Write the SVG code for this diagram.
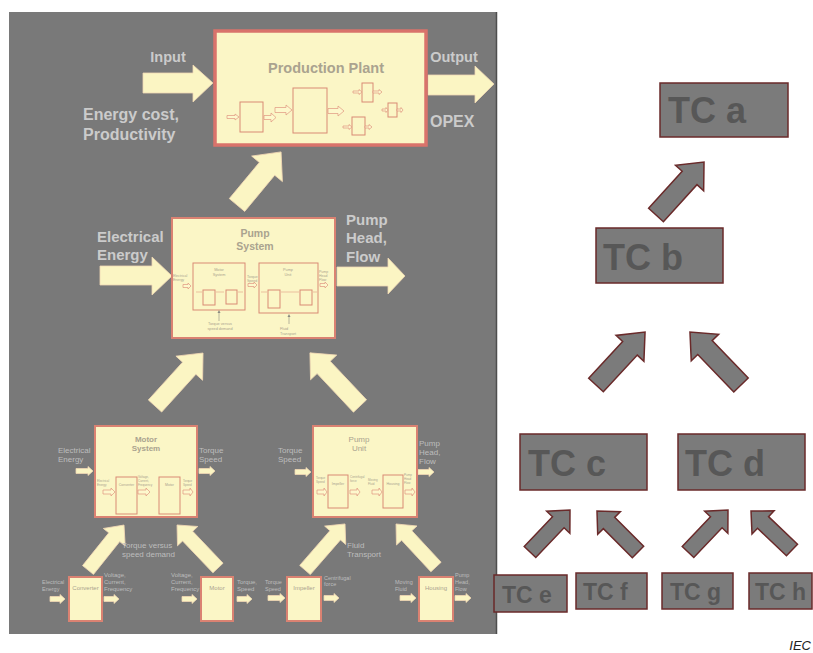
<svg xmlns="http://www.w3.org/2000/svg" width="813" height="653" viewBox="0 0 813 653">
<style>
.ybox{fill:#fbf6c6;stroke:#da8272;stroke-width:2}
.ibox{fill:none;stroke:#d98a74;stroke-width:1}
.yarr{fill:#fbf5c3;stroke:#f0d7b4;stroke-width:0.8}
.tarr{fill:#fdf8cc;stroke:#df9580;stroke-width:0.7}
.garr{fill:#7b7b7b;stroke:#6a2a2a;stroke-width:1.5}
.tc{fill:#7b7b7b;stroke:#6a2a2a;stroke-width:1.5}
.tct{font-family:"Liberation Sans",Arial,sans-serif;font-weight:bold;fill:#575757}
.lb{font-family:"Liberation Sans",Arial,sans-serif;font-weight:bold;fill:#cbcbcb}
.ls{font-family:"Liberation Sans",Arial,sans-serif;fill:#bdbdbd}
.yt{font-family:"Liberation Sans",Arial,sans-serif;font-weight:bold;fill:#aaa38f}
.yts{font-family:"Liberation Sans",Arial,sans-serif;fill:#aaa38f}
.iec{font-family:"Liberation Sans",Arial,sans-serif;font-style:italic;fill:#222}
</style>
<rect x="0" y="0" width="813" height="653" fill="#ffffff"/>
<rect x="9" y="12" width="487" height="622" fill="#797979"/>
<line x1="496.5" y1="12" x2="496.5" y2="634" stroke="#4e4e4e" stroke-width="1.5"/>

<g id="connectors">
  <!-- big horizontal yellow arrows -->
  <path class="yarr" d="M143 73 H193 V65 L213 83 L193 102 V93 H143 Z"/>
  <path class="yarr" d="M428 75 H475 V66 L494 84 L475 103 V95 H428 Z"/>
  <path class="yarr" d="M100 266 H152 V257 L172 276 L152 295 V285 H100 Z"/>
  <path class="yarr" d="M337 267 H388 V258 L405 276 L388 294 V286 H337 Z"/>
  <!-- diagonal yellow arrows -->
  <g transform="translate(237,205) rotate(-50.3)"><polygon class="yarr" points="0,-10 47,-10 47,-20 69,0 47,20 47,10 0,10"/></g>
  <g transform="translate(155,406) rotate(-47.8)"><polygon class="yarr" points="0,-9 51,-9 51,-18 71.5,0 51,18 51,9 0,9"/></g>
  <g transform="translate(360,406) rotate(-133.3)"><polygon class="yarr" points="0,-9 53,-9 53,-18 73,0 53,18 53,9 0,9"/></g>
  <g transform="translate(88,570) rotate(-51.3)"><polygon class="yarr" points="0,-7 42,-7 42,-14 57.6,0 42,14 42,7 0,7"/></g>
  <g transform="translate(218,568) rotate(-133.6)"><polygon class="yarr" points="0,-7 44,-7 44,-14 59.4,0 44,14 44,7 0,7"/></g>
  <g transform="translate(305,570) rotate(-49)"><polygon class="yarr" points="0,-7 46,-7 46,-14 61,0 46,14 46,7 0,7"/></g>
  <g transform="translate(436,567) rotate(-132.9)"><polygon class="yarr" points="0,-7 43,-7 43,-14 58.7,0 43,14 43,7 0,7"/></g>
  <!-- small yellow arrows -->
  <path class="yarr" d="M76 468.5 H88 V466.5 L93 471 L88 475.5 V473.5 H76 Z"/>
  <path class="yarr" d="M199 468.5 H210 V466.5 L215 471 L210 475.5 V473.5 H199 Z"/>
  <path class="yarr" d="M295 469.5 H306 V467.5 L311 472 L306 476.5 V474.5 H295 Z"/>
  <path class="yarr" d="M418 469.5 H429 V467.5 L434 472 L429 476.5 V474.5 H418 Z"/>
  <path class="yarr" d="M50 596.5 H60 V594.5 L65 599 L60 603.5 V601.5 H50 Z"/>
  <path class="yarr" d="M104 596.5 H114 V594.5 L119 599 L114 603.5 V601.5 H104 Z"/>
  <path class="yarr" d="M182 596.5 H192 V594.5 L197 599 L192 603.5 V601.5 H182 Z"/>
  <path class="yarr" d="M237 596.5 H247 V594.5 L252 599 L247 603.5 V601.5 H237 Z"/>
  <path class="yarr" d="M268 595.5 H280 V593.5 L285 598 L280 602.5 V600.5 H268 Z"/>
  <path class="yarr" d="M324 595.5 H334 V593.5 L339 598 L334 602.5 V600.5 H324 Z"/>
  <path class="yarr" d="M400 595.5 H411 V593.5 L416 598 L411 602.5 V600.5 H400 Z"/>
  <path class="yarr" d="M455 595.5 H466 V593.5 L471 598 L466 602.5 V600.5 H455 Z"/>
  <!-- right side gray arrows -->
  <g transform="translate(656,215) rotate(-47.8)"><polygon class="garr" points="0,-10 50,-10 50,-19 71.5,0 50,19 50,10 0,10"/></g>
  <g transform="translate(596,385) rotate(-47.2)"><polygon class="garr" points="0,-10 50,-10 50,-19 72.2,0 50,19 50,10 0,10"/></g>
  <g transform="translate(741,385) rotate(-133.9)"><polygon class="garr" points="0,-10 52,-10 52,-19 73.6,0 52,19 52,10 0,10"/></g>
  <g transform="translate(530,552) rotate(-46.4)"><polygon class="garr" points="0,-8 41,-8 41,-16 58,0 41,16 41,8 0,8"/></g>
  <g transform="translate(638,552) rotate(-135)"><polygon class="garr" points="0,-8 41,-8 41,-16 58,0 41,16 41,8 0,8"/></g>
  <g transform="translate(688,552) rotate(-46.4)"><polygon class="garr" points="0,-8 41,-8 41,-16 58,0 41,16 41,8 0,8"/></g>
  <g transform="translate(792,550) rotate(-136.4)"><polygon class="garr" points="0,-8 40,-8 40,-16 56.6,0 40,16 40,8 0,8"/></g>
</g>

<g id="labels-outer">
  <text class="lb" x="168" y="62" font-size="14.5" text-anchor="middle">Input</text>
  <text class="lb" x="454" y="62" font-size="14.5" text-anchor="middle">Output</text>
  <text class="lb" x="83" y="120" font-size="16">Energy cost,</text>
  <text class="lb" x="83" y="140" font-size="16">Productivity</text>
  <text class="lb" x="430" y="127" font-size="16">OPEX</text>
  <text class="lb" x="97" y="242" font-size="15">Electrical</text>
  <text class="lb" x="97" y="260" font-size="15">Energy</text>
  <text class="lb" x="346" y="225" font-size="15">Pump</text>
  <text class="lb" x="346" y="243" font-size="15">Head,</text>
  <text class="lb" x="346" y="262" font-size="15">Flow</text>
  <text class="ls" x="58" y="453" font-size="8">Electrical</text>
  <text class="ls" x="58" y="462" font-size="8">Energy</text>
  <text class="ls" x="199" y="453" font-size="8">Torque</text>
  <text class="ls" x="199" y="462" font-size="8">Speed</text>
  <text class="ls" x="278" y="453" font-size="8">Torque</text>
  <text class="ls" x="278" y="462" font-size="8">Speed</text>
  <text class="ls" x="419" y="446" font-size="8">Pump</text>
  <text class="ls" x="419" y="455" font-size="8">Head,</text>
  <text class="ls" x="419" y="464" font-size="8">Flow</text>
  <text class="ls" x="122" y="548" font-size="8">Torque versus</text>
  <text class="ls" x="122" y="557" font-size="8">speed demand</text>
  <text class="ls" x="347" y="548" font-size="8">Fluid</text>
  <text class="ls" x="347" y="557" font-size="8">Transport</text>
  <text class="ls" x="42" y="584" font-size="5.5">Electrical</text>
  <text class="ls" x="42" y="591" font-size="5.5">Energy</text>
  <text class="ls" x="104" y="577" font-size="6">Voltage,</text>
  <text class="ls" x="104" y="584" font-size="6">Current,</text>
  <text class="ls" x="104" y="591" font-size="6">Frequency</text>
  <text class="ls" x="171" y="577" font-size="6">Voltage,</text>
  <text class="ls" x="171" y="584" font-size="6">Current,</text>
  <text class="ls" x="171" y="591" font-size="6">Frequency</text>
  <text class="ls" x="237" y="584" font-size="6">Torque,</text>
  <text class="ls" x="237" y="591" font-size="6">Speed</text>
  <text class="ls" x="265" y="584" font-size="5.5">Torque</text>
  <text class="ls" x="265" y="591" font-size="5.5">Speed</text>
  <text class="ls" x="324" y="580" font-size="5.5">Centrifugal</text>
  <text class="ls" x="324" y="586" font-size="5.5">force</text>
  <text class="ls" x="395" y="584" font-size="5.5">Moving</text>
  <text class="ls" x="395" y="591" font-size="5.5">Fluid</text>
  <text class="ls" x="455" y="577" font-size="5.5">Pump</text>
  <text class="ls" x="455" y="584" font-size="5.5">Head,</text>
  <text class="ls" x="455" y="591" font-size="5.5">Flow</text>
</g>

<g id="production-plant">
  <rect x="215" y="31" width="211" height="114" fill="#fbf6c6" stroke="#d9736b" stroke-width="3.5"/>
  <text class="yt" x="326" y="73" font-size="14.5" text-anchor="middle">Production  Plant</text>
  <rect class="ibox" x="240" y="102" width="23" height="30" stroke-width="1.3"/>
  <rect class="ibox" x="293" y="88" width="34" height="45" stroke-width="1.5"/>
  <rect class="ibox" x="362" y="83" width="11" height="19"/>
  <rect class="ibox" x="388" y="103" width="9" height="14"/>
  <rect class="ibox" x="352" y="117" width="13" height="18"/>
  <path class="tarr" d="M227 115.5 H235 V114 L239 117 L235 120 V118.5 H227 Z"/>
  <path class="tarr" d="M264 115.5 H271 V113 L276 117.5 L271 122 V119.5 H264 Z"/>
  <path class="tarr" d="M275 107.5 H286 V105 L292 110 L286 115 V112.5 H275 Z"/>
  <path class="tarr" d="M328 108.5 H338 V106 L344 111 L338 116 V113.5 H328 Z"/>
  <path class="tarr" d="M353 91 H359 V89.5 L362 92 L359 94.5 V93 H353 Z"/>
  <path class="tarr" d="M373 91 H379 V89.5 L382 92 L379 94.5 V93 H373 Z"/>
  <path class="tarr" d="M382 109 H386 V107.5 L388 110 L386 112.5 V111 H382 Z"/>
  <path class="tarr" d="M397 109 H401 V107.5 L403 110 L401 112.5 V111 H397 Z"/>
  <path class="tarr" d="M343 126 H349 V124.5 L352 127 L349 129.5 V128 H343 Z"/>
  <path class="tarr" d="M365 126 H369 V124.5 L372 127 L369 129.5 V128 H365 Z"/>
</g>

<g id="pump-system">
  <rect class="ybox" x="172" y="218" width="163" height="120"/>
  <text class="yt" x="255" y="237" font-size="10.5" text-anchor="middle" font-weight="normal">Pump</text>
  <text class="yt" x="255" y="250" font-size="10.5" text-anchor="middle" font-weight="normal">System</text>
  <rect class="ibox" x="193" y="263" width="52" height="47"/>
  <rect class="ibox" x="259" y="263" width="59" height="50"/>
  <rect class="ibox" x="203" y="290" width="12" height="15" stroke-width="0.7"/>
  <rect class="ibox" x="226" y="290" width="11" height="14" stroke-width="0.7"/>
  <rect class="ibox" x="268" y="290" width="12" height="18" stroke-width="0.7"/>
  <rect class="ibox" x="300" y="290" width="12" height="15" stroke-width="0.7"/>
  <line x1="196" y1="292" x2="202" y2="292" stroke="#d98a74" stroke-width="0.5"/>
  <line x1="216" y1="292" x2="224" y2="292" stroke="#d98a74" stroke-width="0.5"/>
  <line x1="238" y1="292" x2="243" y2="292" stroke="#d98a74" stroke-width="0.5"/>
  <line x1="261" y1="292" x2="267" y2="292" stroke="#d98a74" stroke-width="0.5"/>
  <line x1="281" y1="292" x2="299" y2="292" stroke="#d98a74" stroke-width="0.5"/>
  <line x1="313" y1="292" x2="317" y2="292" stroke="#d98a74" stroke-width="0.5"/>
  <path class="tarr" d="M183 284.5 H188 V283 L191 286 L188 289 V287.5 H183 Z"/>
  <path class="tarr" d="M248 283.5 H254 V282 L257 285 L254 288 V286.5 H248 Z"/>
  <path class="tarr" d="M320 283.5 H325 V282 L328 285 L325 288 V286.5 H320 Z"/>
  <line x1="219" y1="321" x2="219" y2="312" stroke="#8a8a80" stroke-width="0.6"/>
  <path d="M217.5 313 L219 310 L220.5 313 Z" fill="#8a8a80"/>
  <line x1="289" y1="324" x2="289" y2="316" stroke="#8a8a80" stroke-width="0.6"/>
  <path d="M287.5 317 L289 314 L290.5 317 Z" fill="#8a8a80"/>
  <text class="yts" x="173" y="277" font-size="3.5">Electrical</text>
  <text class="yts" x="173" y="281" font-size="3.5">Energy</text>
  <text class="yts" x="219" y="271" font-size="3.8" text-anchor="middle">Motor</text>
  <text class="yts" x="219" y="275.5" font-size="3.8" text-anchor="middle">System</text>
  <text class="yts" x="247" y="278" font-size="3.5">Torque</text>
  <text class="yts" x="247" y="282" font-size="3.5">Speed</text>
  <text class="yts" x="288" y="271" font-size="3.8" text-anchor="middle">Pump</text>
  <text class="yts" x="288" y="275.5" font-size="3.8" text-anchor="middle">Unit</text>
  <text class="yts" x="319" y="273" font-size="3.5">Pump</text>
  <text class="yts" x="319" y="277" font-size="3.5">Head</text>
  <text class="yts" x="319" y="281" font-size="3.5">Flow</text>
  <text class="yts" x="220" y="325" font-size="3.8" text-anchor="middle">Torque versus</text>
  <text class="yts" x="220" y="329.5" font-size="3.8" text-anchor="middle">speed demand</text>
  <text class="yts" x="280" y="330" font-size="3.8">Fluid</text>
  <text class="yts" x="280" y="335" font-size="3.8">Transport</text>
</g>

<g id="motor-system">
  <rect class="ybox" x="95" y="426" width="102" height="91"/>
  <text class="yt" x="146" y="442" font-size="8" text-anchor="middle">Motor</text>
  <text class="yt" x="146" y="451" font-size="8" text-anchor="middle">System</text>
  <rect class="ibox" x="116" y="477" width="21" height="37"/>
  <rect class="ibox" x="159" y="477" width="21" height="37"/>
  <text class="yts" x="126.5" y="486" font-size="3.5" text-anchor="middle">Converter</text>
  <text class="yts" x="169.5" y="486" font-size="3.5" text-anchor="middle">Motor</text>
  <text class="yts" x="97" y="482" font-size="3">Electrical</text>
  <text class="yts" x="97" y="486" font-size="3">Energy</text>
  <text class="yts" x="138" y="478" font-size="3">Voltage,</text>
  <text class="yts" x="138" y="482" font-size="3">Current,</text>
  <text class="yts" x="138" y="486" font-size="3">Frequency</text>
  <text class="yts" x="183" y="482" font-size="3">Torque</text>
  <text class="yts" x="183" y="486" font-size="3">Speed</text>
  <path class="tarr" d="M103 490 H111 V488 L115 492 L111 496 V494 H103 Z"/>
  <path class="tarr" d="M138 490 H146 V488 L150 492 L146 496 V494 H138 Z"/>
  <path class="tarr" d="M183 490 H190 V488 L193 492 L190 496 V494 H183 Z"/>
</g>

<g id="pump-unit">
  <rect class="ybox" x="313" y="426" width="104" height="91"/>
  <text class="yts" x="359" y="442" font-size="8" text-anchor="middle">Pump</text>
  <text class="yts" x="359" y="451" font-size="8" text-anchor="middle">Unit</text>
  <rect class="ibox" x="328" y="475" width="20" height="33"/>
  <rect class="ibox" x="383" y="475" width="20" height="33"/>
  <text class="yts" x="338" y="485" font-size="3.5" text-anchor="middle">Impeller</text>
  <text class="yts" x="393" y="485" font-size="3.5" text-anchor="middle">Housing</text>
  <text class="yts" x="316" y="479" font-size="3">Torque</text>
  <text class="yts" x="316" y="483" font-size="3">Speed</text>
  <text class="yts" x="350" y="478" font-size="3">Centrifugal</text>
  <text class="yts" x="350" y="482" font-size="3">force</text>
  <text class="yts" x="368" y="481" font-size="3">Moving</text>
  <text class="yts" x="368" y="485" font-size="3">Fluid</text>
  <text class="yts" x="404" y="476" font-size="3">Pump</text>
  <text class="yts" x="404" y="480" font-size="3">Head</text>
  <text class="yts" x="404" y="484" font-size="3">Flow</text>
  <path class="tarr" d="M317 490 H324 V488 L327 492 L324 496 V494 H317 Z"/>
  <path class="tarr" d="M350 490 H357 V488 L360 492 L357 496 V494 H350 Z"/>
  <path class="tarr" d="M372 490 H379 V488 L382 492 L379 496 V494 H372 Z"/>
  <path class="tarr" d="M405 490 H412 V488 L415 492 L412 496 V494 H405 Z"/>
</g>

<g id="converter">
  <rect class="ybox" x="69" y="577" width="33" height="44"/>
  <text class="yts" x="85.5" y="590" font-size="6" text-anchor="middle">Converter</text>
</g>
<g id="motor">
  <rect class="ybox" x="201" y="577" width="32" height="44"/>
  <text class="yts" x="217" y="590" font-size="6" text-anchor="middle">Motor</text>
</g>
<g id="impeller">
  <rect class="ybox" x="287" y="577" width="34" height="44"/>
  <text class="yts" x="304" y="590" font-size="6" text-anchor="middle">Impeller</text>
</g>
<g id="housing">
  <rect class="ybox" x="419" y="577" width="34" height="44"/>
  <text class="yts" x="436" y="590" font-size="6" text-anchor="middle">Housing</text>
</g>

<g id="tc-a"><rect class="tc" x="660" y="83" width="128" height="54"/><text class="tct" x="668" y="123" font-size="36">TC a</text></g>
<g id="tc-b"><rect class="tc" x="596" y="228" width="127" height="55"/><text class="tct" x="603" y="270" font-size="36">TC b</text></g>
<g id="tc-c"><rect class="tc" x="520" y="434" width="127" height="56"/><text class="tct" x="528" y="476" font-size="36">TC c</text></g>
<g id="tc-d"><rect class="tc" x="678" y="434" width="127" height="56"/><text class="tct" x="685" y="476" font-size="36">TC d</text></g>
<g id="tc-e"><rect class="tc" x="494" y="575" width="73" height="37"/><text class="tct" x="502" y="603" font-size="23">TC e</text></g>
<g id="tc-f"><rect class="tc" x="576" y="573" width="71" height="36"/><text class="tct" x="583" y="600" font-size="23">TC f</text></g>
<g id="tc-g"><rect class="tc" x="662" y="573" width="71" height="36"/><text class="tct" x="670" y="600" font-size="23">TC g</text></g>
<g id="tc-h"><rect class="tc" x="749" y="573" width="63" height="36"/><text class="tct" x="755" y="600" font-size="23">TC h</text></g>

<text class="iec" x="811" y="650" font-size="13" text-anchor="end">IEC</text>
</svg>
